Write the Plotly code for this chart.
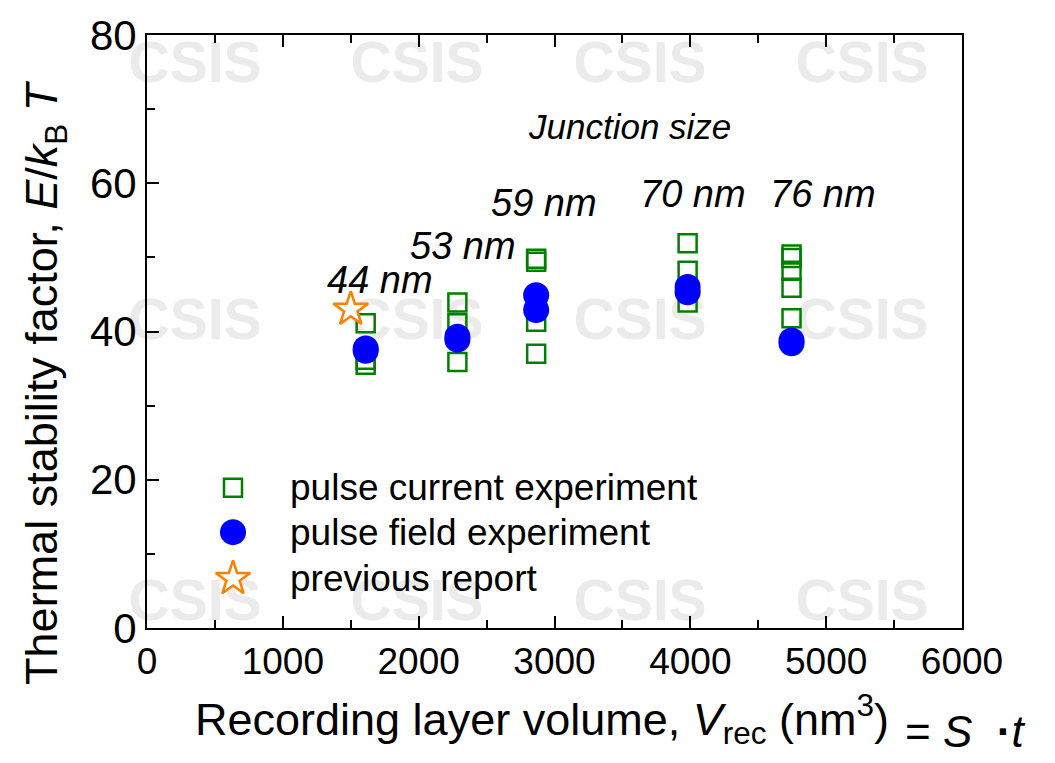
import plotly.graph_objects as go

# ---- figure geometry (pixels) ----
W, H = 1055, 763
PL, PR, PT, PB = 147, 962, 28, 628   # plot-area edges

# ---- data ----
current_x = [1610, 1610, 1610,
             2285, 2285, 2285,
             2865, 2865, 2865, 2865,
             3980, 3980, 3980,
             4745, 4745, 4745, 4745, 4745]
current_y = [41.1, 36.2, 35.5,
             43.9, 41.1, 35.9,
             49.8, 49.4, 41.3, 37.0,
             51.9, 48.2, 43.9,
             50.4, 49.9, 48.2, 45.9, 41.8]

field_x = [1610, 1610, 2285, 2285, 2865, 2865, 3980, 3980, 4745, 4745]
field_y = [37.7, 37.4, 39.3, 38.9, 44.9, 42.9, 46.0, 45.3, 38.8, 38.4]

previous_x = [1500]
previous_y = [43.0]

size_labels = ["44 nm", "53 nm", "59 nm", "70 nm", "76 nm"]
size_label_x = [1715, 2326, 2923, 4020, 4977]
size_label_y = [47.0, 51.6, 57.4, 58.6, 58.6]

x_ticks = [0, 1000, 2000, 3000, 4000, 5000, 6000]
y_ticks = [0, 20, 40, 60, 80]

series_names = ["pulse current experiment", "pulse field experiment", "previous report"]

GREEN = "#008000"
BLUE = "#0000ff"
ORANGE = "#ff7f00"
FONT = "Liberation Sans, Arial, sans-serif"


def px_x(p):
    return (p - PL) / (PR - PL)


def px_y(p):
    return (PB - p) / (PB - PT)


fig = go.Figure()

fig.add_trace(go.Scatter(
    x=current_x, y=current_y, mode="markers", name=series_names[0],
    marker=dict(symbol="square-open", size=18, color=GREEN, line=dict(width=2.5, color=GREEN)),
    showlegend=False))
fig.add_trace(go.Scatter(
    x=field_x, y=field_y, mode="markers", name=series_names[1],
    marker=dict(symbol="circle", size=26, color=BLUE, line=dict(width=0)),
    showlegend=False))
fig.add_trace(go.Scatter(
    x=previous_x, y=previous_y, mode="markers", name=series_names[2],
    marker=dict(symbol="star", size=26, color="white", line=dict(width=2.5, color=ORANGE)),
    showlegend=False))

# ---- hand-placed legend on a normalised overlay axis ----
key_x = px_x(233)
key_rows = [px_y(486), px_y(531), px_y(578)]
key_styles = [
    dict(symbol="square-open", size=18, color=GREEN, line=dict(width=2.5, color=GREEN)),
    dict(symbol="circle", size=26, color=BLUE, line=dict(width=0)),
    dict(symbol="star", size=26, color="white", line=dict(width=2.5, color=ORANGE)),
]
for name, ky, st in zip(series_names, key_rows, key_styles):
    fig.add_trace(go.Scatter(x=[key_x], y=[ky], mode="markers", marker=st,
                             xaxis="x2", yaxis="y2", showlegend=False, hoverinfo="skip"))
    fig.add_annotation(x=px_x(288), y=ky, xref="paper", yref="paper", text=name,
                       showarrow=False, xanchor="left", yanchor="middle",
                       font=dict(family=FONT, size=37, color="black"))

# ---- junction size labels ----
for t, lx, ly in zip(size_labels, size_label_x, size_label_y):
    fig.add_annotation(x=lx, y=ly, xref="x", yref="y", text=f"<i>{t}</i>",
                       showarrow=False, xanchor="center", yanchor="middle",
                       font=dict(family=FONT, size=38, color="black"))
fig.add_annotation(x=3549, y=67.6, xref="x", yref="y", text="<i>Junction size</i>",
                   showarrow=False, xanchor="center", yanchor="middle",
                   font=dict(family=FONT, size=35, color="black"))

# ---- axis titles ----
fig.add_annotation(x=px_x(45), y=px_y(380), xref="paper", yref="paper",
                   text="Thermal stability factor, <i>E</i>/<i>k</i><sub>B</sub> <i>T</i>",
                   textangle=-90, showarrow=False, xanchor="center", yanchor="middle",
                   font=dict(family=FONT, size=45, color="black"))
fig.add_annotation(x=px_x(193), y=px_y(720), xref="paper", yref="paper",
                   text="Recording layer volume, <i>V</i><sub>rec</sub> (nm<sup>3</sup>)",
                   showarrow=False, xanchor="left", yanchor="middle",
                   font=dict(family=FONT, size=45, color="black"))
fig.add_annotation(x=px_x(903), y=px_y(733), xref="paper", yref="paper",
                   text="= <i>S</i>  <b>·</b><i>t</i>",
                   showarrow=False, xanchor="left", yanchor="middle",
                   font=dict(family=FONT, size=44, color="black"))

# ---- faint background stamp ----
for cy in [50, 310, 595]:
    for cx in [195, 417, 640, 862]:
        fig.add_shape(type="rect", xref="paper", yref="paper",
                      x0=px_x(cx - 70), x1=px_x(cx + 70), y0=px_y(cy + 30), y1=px_y(cy - 30),
                      line=dict(width=0), fillcolor="rgba(0,0,0,0)", layer="below",
                      label=dict(text="<b>CSIS</b>", textposition="middle center",
                                 font=dict(family=FONT, size=57, color="#ebebeb")))

axis_common = dict(showgrid=False, zeroline=False, showline=True, linecolor="black",
                   linewidth=2, ticks="inside", tickcolor="black", tickwidth=2, ticklen=12)

fig.update_layout(
    width=W, height=H,
    margin=dict(l=PL, r=W - PR, t=PT, b=H - PB, pad=0),
    paper_bgcolor="white", plot_bgcolor="rgba(0,0,0,0)",
    showlegend=False,
    xaxis=dict(range=[0, 6000], tickvals=x_ticks, mirror="allticks",
               tickfont=dict(family=FONT, size=37, color="black"),
               minor=dict(dtick=500, ticks="inside", ticklen=8, tickwidth=2, tickcolor="black"),
               **axis_common),
    yaxis=dict(range=[0, 80], tickvals=y_ticks, mirror=True,
               tickfont=dict(family=FONT, size=42, color="black"),
               minor=dict(dtick=10, ticks="inside", ticklen=8, tickwidth=2, tickcolor="black"),
               **axis_common),
    xaxis2=dict(overlaying="x", range=[0, 1], visible=False, anchor="y2"),
    yaxis2=dict(overlaying="y", range=[0, 1], visible=False, anchor="x2"),
)

fig.write_html("out.html")
